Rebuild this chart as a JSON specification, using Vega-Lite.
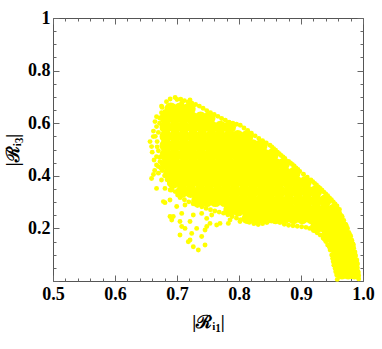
{
"$schema":"https://vega.github.io/schema/vega-lite/v6.json",
"width":310,"height":263,
"autosize":{"type":"none"},
"padding":{"left":53,"top":18,"right":19,"bottom":68},
"background":"white",
"config":{"view":{"stroke":"#555","strokeWidth":1},
"axis":{"domain":false,"grid":false,"tickColor":"#666","tickWidth":1,"labelFont":"Liberation Serif","labelFontSize":18,"labelFontWeight":"bold","labelColor":"black","labelFlush":false,"labelOverlap":false,"labelBound":false,"titleFont":"Liberation Serif","titleFontSize":18,"titleFontWeight":"bold","titleColor":"black"}},
"datasets":{
"fill":[
{"x":0.69,"y":0.655},{"x":0.705,"y":0.655},{"x":0.72,"y":0.655},
{"x":0.682,"y":0.62},{"x":0.696,"y":0.62},{"x":0.71,"y":0.62},{"x":0.724,"y":0.62},{"x":0.738,"y":0.62},{"x":0.752,"y":0.62},
{"x":0.682,"y":0.585},{"x":0.697,"y":0.585},{"x":0.711,"y":0.585},{"x":0.726,"y":0.585},{"x":0.741,"y":0.585},{"x":0.756,"y":0.585},{"x":0.77,"y":0.585},{"x":0.785,"y":0.585},
{"x":0.682,"y":0.55},{"x":0.697,"y":0.55},{"x":0.711,"y":0.55},{"x":0.726,"y":0.55},{"x":0.74,"y":0.55},{"x":0.755,"y":0.55},{"x":0.769,"y":0.55},{"x":0.784,"y":0.55},{"x":0.798,"y":0.55},{"x":0.813,"y":0.55},
{"x":0.682,"y":0.515},{"x":0.696,"y":0.515},{"x":0.71,"y":0.515},{"x":0.724,"y":0.515},{"x":0.738,"y":0.515},{"x":0.752,"y":0.515},{"x":0.766,"y":0.515},{"x":0.78,"y":0.515},{"x":0.794,"y":0.515},{"x":0.808,"y":0.515},{"x":0.822,"y":0.515},{"x":0.836,"y":0.515},
{"x":0.682,"y":0.48},{"x":0.696,"y":0.48},{"x":0.711,"y":0.48},{"x":0.725,"y":0.48},{"x":0.739,"y":0.48},{"x":0.754,"y":0.48},{"x":0.768,"y":0.48},{"x":0.782,"y":0.48},{"x":0.797,"y":0.48},{"x":0.811,"y":0.48},{"x":0.825,"y":0.48},{"x":0.84,"y":0.48},{"x":0.854,"y":0.48},
{"x":0.684,"y":0.445},{"x":0.698,"y":0.445},{"x":0.713,"y":0.445},{"x":0.727,"y":0.445},{"x":0.742,"y":0.445},{"x":0.756,"y":0.445},{"x":0.771,"y":0.445},{"x":0.785,"y":0.445},{"x":0.8,"y":0.445},{"x":0.814,"y":0.445},{"x":0.829,"y":0.445},{"x":0.843,"y":0.445},{"x":0.858,"y":0.445},{"x":0.872,"y":0.445},
{"x":0.688,"y":0.41},{"x":0.702,"y":0.41},{"x":0.717,"y":0.41},{"x":0.731,"y":0.41},{"x":0.745,"y":0.41},{"x":0.76,"y":0.41},{"x":0.774,"y":0.41},{"x":0.788,"y":0.41},{"x":0.803,"y":0.41},{"x":0.817,"y":0.41},{"x":0.831,"y":0.41},{"x":0.846,"y":0.41},{"x":0.86,"y":0.41},{"x":0.874,"y":0.41},{"x":0.889,"y":0.41},
{"x":0.694,"y":0.375},{"x":0.708,"y":0.375},{"x":0.722,"y":0.375},{"x":0.737,"y":0.375},{"x":0.751,"y":0.375},{"x":0.765,"y":0.375},{"x":0.779,"y":0.375},{"x":0.793,"y":0.375},{"x":0.808,"y":0.375},{"x":0.822,"y":0.375},{"x":0.836,"y":0.375},{"x":0.85,"y":0.375},{"x":0.864,"y":0.375},{"x":0.879,"y":0.375},{"x":0.893,"y":0.375},{"x":0.907,"y":0.375},
{"x":0.708,"y":0.34},{"x":0.722,"y":0.34},{"x":0.737,"y":0.34},{"x":0.751,"y":0.34},{"x":0.766,"y":0.34},{"x":0.78,"y":0.34},{"x":0.794,"y":0.34},{"x":0.809,"y":0.34},{"x":0.823,"y":0.34},{"x":0.838,"y":0.34},{"x":0.852,"y":0.34},{"x":0.866,"y":0.34},{"x":0.881,"y":0.34},{"x":0.895,"y":0.34},{"x":0.91,"y":0.34},{"x":0.924,"y":0.34},
{"x":0.733,"y":0.305},{"x":0.748,"y":0.305},{"x":0.762,"y":0.305},{"x":0.777,"y":0.305},{"x":0.792,"y":0.305},{"x":0.806,"y":0.305},{"x":0.821,"y":0.305},{"x":0.836,"y":0.305},{"x":0.85,"y":0.305},{"x":0.865,"y":0.305},{"x":0.88,"y":0.305},{"x":0.895,"y":0.305},{"x":0.909,"y":0.305},{"x":0.924,"y":0.305},{"x":0.939,"y":0.305},
{"x":0.785,"y":0.27},{"x":0.799,"y":0.27},{"x":0.813,"y":0.27},{"x":0.827,"y":0.27},{"x":0.841,"y":0.27},{"x":0.855,"y":0.27},{"x":0.869,"y":0.27},{"x":0.883,"y":0.27},{"x":0.897,"y":0.27},{"x":0.911,"y":0.27},{"x":0.925,"y":0.27},{"x":0.939,"y":0.27},{"x":0.953,"y":0.27},
{"x":0.815,"y":0.24},{"x":0.83,"y":0.24},{"x":0.844,"y":0.24},{"x":0.859,"y":0.24},{"x":0.873,"y":0.24},{"x":0.888,"y":0.24},{"x":0.902,"y":0.24},{"x":0.917,"y":0.24},{"x":0.931,"y":0.24},{"x":0.946,"y":0.24},{"x":0.96,"y":0.24},
{"x":0.925,"y":0.205},{"x":0.939,"y":0.205},{"x":0.953,"y":0.205},{"x":0.967,"y":0.205},
{"x":0.942,"y":0.17},{"x":0.957,"y":0.17},{"x":0.973,"y":0.17},
{"x":0.953,"y":0.135},{"x":0.966,"y":0.135},{"x":0.978,"y":0.135},
{"x":0.958,"y":0.1},{"x":0.97,"y":0.1},{"x":0.981,"y":0.1},
{"x":0.963,"y":0.065},{"x":0.974,"y":0.065},{"x":0.984,"y":0.065},
{"x":0.966,"y":0.03},{"x":0.976,"y":0.03},{"x":0.986,"y":0.03}
],
"edge":[
{"x":0.7,"y":0.69},{"x":0.706,"y":0.691},{"x":0.712,"y":0.686},{"x":0.718,"y":0.681},{"x":0.724,"y":0.676},{"x":0.73,"y":0.671},{"x":0.736,"y":0.665},{"x":0.742,"y":0.657},{"x":0.748,"y":0.648},{"x":0.754,"y":0.64},{"x":0.76,"y":0.633},{"x":0.766,"y":0.626},{"x":0.772,"y":0.618},{"x":0.778,"y":0.611},{"x":0.784,"y":0.604},{"x":0.79,"y":0.6},{"x":0.796,"y":0.596},{"x":0.802,"y":0.592},{"x":0.808,"y":0.582},{"x":0.814,"y":0.572},{"x":0.82,"y":0.562},{"x":0.826,"y":0.552},{"x":0.832,"y":0.542},{"x":0.838,"y":0.533},{"x":0.844,"y":0.525},{"x":0.85,"y":0.516},{"x":0.853,"y":0.51},{"x":0.856,"y":0.503},{"x":0.859,"y":0.497},{"x":0.862,"y":0.49},{"x":0.865,"y":0.484},{"x":0.868,"y":0.477},{"x":0.871,"y":0.472},{"x":0.874,"y":0.466},{"x":0.88,"y":0.455},{"x":0.883,"y":0.449},{"x":0.886,"y":0.443},{"x":0.889,"y":0.437},{"x":0.892,"y":0.43},{"x":0.895,"y":0.424},{"x":0.898,"y":0.417},{"x":0.904,"y":0.406},{"x":0.91,"y":0.395},{"x":0.916,"y":0.384},{"x":0.919,"y":0.378},{"x":0.922,"y":0.371},{"x":0.925,"y":0.365},{"x":0.928,"y":0.358},{"x":0.931,"y":0.352},{"x":0.934,"y":0.345},{"x":0.937,"y":0.338},{"x":0.94,"y":0.331},{"x":0.943,"y":0.324},{"x":0.946,"y":0.316},{"x":0.949,"y":0.309},{"x":0.952,"y":0.301},{"x":0.955,"y":0.293},{"x":0.958,"y":0.285},{"x":0.962,"y":0.272},
{"x":0.962,"y":0.26},{"x":0.966,"y":0.245},{"x":0.969,"y":0.23},{"x":0.972,"y":0.215},{"x":0.975,"y":0.2},{"x":0.977,"y":0.185},{"x":0.98,"y":0.17},{"x":0.982,"y":0.155},{"x":0.984,"y":0.14},{"x":0.985,"y":0.125},{"x":0.987,"y":0.11},{"x":0.988,"y":0.095},{"x":0.99,"y":0.08},{"x":0.991,"y":0.065},{"x":0.991,"y":0.05},{"x":0.992,"y":0.035},{"x":0.993,"y":0.02},{"x":0.993,"y":0.008},
{"x":0.697,"y":0.698},{"x":0.683,"y":0.682},{"x":0.721,"y":0.688},{"x":0.7076,"y":0.676},{"x":0.6806,"y":0.644},{"x":0.667,"y":0.625},{"x":0.6645,"y":0.606},{"x":0.667,"y":0.587},{"x":0.6618,"y":0.549},{"x":0.6565,"y":0.53},{"x":0.659,"y":0.511},{"x":0.667,"y":0.473},{"x":0.6726,"y":0.454},{"x":0.67,"y":0.435},{"x":0.659,"y":0.39},{"x":0.667,"y":0.352},{"x":0.675,"y":0.384},{"x":0.6806,"y":0.352},{"x":0.6915,"y":0.346},{"x":0.697,"y":0.365},{"x":0.667,"y":0.441},{"x":0.672,"y":0.6},{"x":0.67,"y":0.565},{"x":0.668,"y":0.53},{"x":0.67,"y":0.495},{"x":0.675,"y":0.64},{"x":0.672,"y":0.62},{"x":0.676,"y":0.66},{"x":0.689,"y":0.692},{"x":0.675,"y":0.665},
{"x":0.662,"y":0.57},{"x":0.66,"y":0.49},{"x":0.663,"y":0.46},{"x":0.664,"y":0.42},{"x":0.662,"y":0.405},{"x":0.67,"y":0.41},{"x":0.672,"y":0.47},{"x":0.665,"y":0.55},{"x":0.668,"y":0.51},{"x":0.674,"y":0.43},{"x":0.676,"y":0.445},
{"x":0.676,"y":0.42},{"x":0.68,"y":0.4},{"x":0.684,"y":0.385},{"x":0.688,"y":0.37},{"x":0.692,"y":0.355},{"x":0.697,"y":0.34},{"x":0.701,"y":0.327},
{"x":0.705,"y":0.317},{"x":0.712,"y":0.309},{"x":0.719,"y":0.301},{"x":0.726,"y":0.294},{"x":0.733,"y":0.287},{"x":0.74,"y":0.282},{"x":0.747,"y":0.276},{"x":0.754,"y":0.271},{"x":0.761,"y":0.266},{"x":0.768,"y":0.262},{"x":0.775,"y":0.258},{"x":0.782,"y":0.252},{"x":0.789,"y":0.245},{"x":0.796,"y":0.239},{"x":0.803,"y":0.233},{"x":0.81,"y":0.228},{"x":0.817,"y":0.223},{"x":0.824,"y":0.218},{"x":0.831,"y":0.215},{"x":0.838,"y":0.218},{"x":0.845,"y":0.222},{"x":0.852,"y":0.228},{"x":0.859,"y":0.228},{"x":0.866,"y":0.222},{"x":0.873,"y":0.216},{"x":0.88,"y":0.212},{"x":0.887,"y":0.21},{"x":0.894,"y":0.208},{"x":0.901,"y":0.206},{"x":0.908,"y":0.204},{"x":0.914,"y":0.2},{"x":0.92,"y":0.192},{"x":0.926,"y":0.183},{"x":0.931,"y":0.175},{"x":0.936,"y":0.163},{"x":0.94,"y":0.15},{"x":0.943,"y":0.137}
],
"strand":[
{"x":0.9414,"y":0.156},{"x":0.947,"y":0.118},{"x":0.9495,"y":0.099},{"x":0.952,"y":0.073},{"x":0.955,"y":0.048},{"x":0.9575,"y":0.023},{"x":0.9585,"y":0.006},{"x":0.946,"y":0.128},{"x":0.951,"y":0.086},{"x":0.953,"y":0.06},{"x":0.956,"y":0.035}
],
"scatter":[
{"x":0.6806,"y":0.298},{"x":0.6887,"y":0.308},{"x":0.6887,"y":0.245},{"x":0.6915,"y":0.232},{"x":0.7048,"y":0.226},{"x":0.7076,"y":0.257},{"x":0.7129,"y":0.2},{"x":0.7048,"y":0.175},{"x":0.721,"y":0.226},{"x":0.7237,"y":0.181},{"x":0.7182,"y":0.149},{"x":0.7263,"y":0.13},{"x":0.7344,"y":0.118},{"x":0.7452,"y":0.137},{"x":0.7452,"y":0.194},{"x":0.7317,"y":0.2},{"x":0.7532,"y":0.219},{"x":0.764,"y":0.213},{"x":0.7855,"y":0.232},{"x":0.7129,"y":0.289},{"x":0.6995,"y":0.283},{"x":0.7263,"y":0.251},{"x":0.7398,"y":0.257},{"x":0.7479,"y":0.238},{"x":0.756,"y":0.251},{"x":0.7694,"y":0.219},{"x":0.7828,"y":0.219},{"x":0.8016,"y":0.226},{"x":0.678,"y":0.302},{"x":0.689,"y":0.346},{"x":0.721,"y":0.156},{"x":0.694,"y":0.245},{"x":0.7076,"y":0.207},{"x":0.7398,"y":0.169},{"x":0.748,"y":0.207}
]},
"layer":[
{"data":{"name":"fill"},
"mark":{"type":"circle","size":160,"color":"#ffff00","opacity":1},
"encoding":{
"x":{"field":"x","type":"quantitative","scale":{"domain":[0.5,1],"nice":false,"zero":false},
"axis":{"orient":"bottom","title":"|ℛᵢ₁|","values":[0.5,0.6,0.7,0.8,0.9,1],"format":".1f","tickSize":-6,"labelPadding":10,"titlePadding":10}},
"y":{"field":"y","type":"quantitative","scale":{"domain":[0,1],"nice":false,"zero":false},
"axis":{"orient":"left","title":"|ℛᵢ₃|","values":[0,0.2,0.4,0.6,0.8,1],
"labelExpr":"datum.value==0 ? '' : (datum.value==1 ? '1' : format(datum.value,'.1f'))",
"tickSize":-6,"labelPadding":9,"titlePadding":5}}}},
{"data":{"name":"edge"},
"mark":{"type":"circle","size":24,"color":"#ffff00","opacity":1},
"encoding":{
"x":{"field":"x","type":"quantitative","scale":{"domain":[0.5,1],"nice":false,"zero":false},
"axis":{"orient":"bottom","title":null,"labels":false,"values":[0.52,0.54,0.56,0.58,0.62,0.64,0.66,0.68,0.72,0.74,0.76,0.78,0.82,0.84,0.86,0.88,0.92,0.94,0.96,0.98],"tickSize":-3}},
"y":{"field":"y","type":"quantitative","scale":{"domain":[0,1],"nice":false,"zero":false},
"axis":{"orient":"left","title":null,"labels":false,"values":[0.05,0.1,0.15,0.25,0.3,0.35,0.45,0.5,0.55,0.65,0.7,0.75,0.85,0.9,0.95],"tickSize":-3}}}},
{"data":{"name":"scatter"},
"mark":{"type":"circle","size":24,"color":"#ffff00","opacity":1},
"encoding":{
"x":{"field":"x","type":"quantitative","scale":{"domain":[0.5,1],"nice":false,"zero":false},
"axis":{"orient":"top","title":null,"labels":false,"values":[0.5,0.6,0.7,0.8,0.9,1],"tickSize":-6}},
"y":{"field":"y","type":"quantitative","scale":{"domain":[0,1],"nice":false,"zero":false},
"axis":{"orient":"right","title":null,"labels":false,"values":[0,0.2,0.4,0.6,0.8,1],"tickSize":-6}}}},
{"data":{"name":"strand"},
"mark":{"type":"circle","size":24,"color":"#ffff00","opacity":1},
"encoding":{
"x":{"field":"x","type":"quantitative","scale":{"domain":[0.5,1],"nice":false,"zero":false},
"axis":{"orient":"top","title":null,"labels":false,"values":[0.52,0.54,0.56,0.58,0.62,0.64,0.66,0.68,0.72,0.74,0.76,0.78,0.82,0.84,0.86,0.88,0.92,0.94,0.96,0.98],"tickSize":-3}},
"y":{"field":"y","type":"quantitative","scale":{"domain":[0,1],"nice":false,"zero":false},
"axis":{"orient":"right","title":null,"labels":false,"values":[0.05,0.1,0.15,0.25,0.3,0.35,0.45,0.5,0.55,0.65,0.7,0.75,0.85,0.9,0.95],"tickSize":-3}}}}
],
"resolve":{"axis":{"x":"independent","y":"independent"}}
}
